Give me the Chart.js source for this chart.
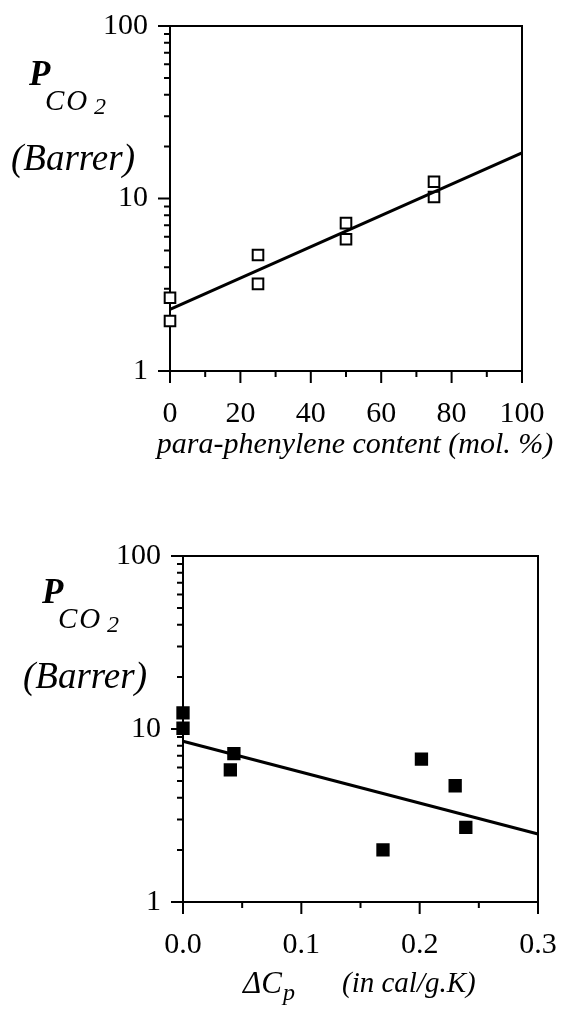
<!DOCTYPE html>
<html>
<head>
<meta charset="utf-8">
<script src="https://cdn.jsdelivr.net/npm/chart.js@4/dist/chart.umd.min.js"></script>
<style>
  html, body { margin: 0; padding: 0; background: #fff; }
  body { width: 566px; height: 1010px; position: relative; overflow: hidden; font-family: "Liberation Serif", "DejaVu Serif", serif; color: #000; }
  .box { position: absolute; left: 0; width: 566px; }
  .lbl { position: absolute; line-height: 1; white-space: nowrap; font-style: italic; }
  .b { font-weight: bold; }
</style>
</head>
<body>
<div class="box" style="top:0;height:480px"><canvas id="topChart" width="566" height="480"></canvas></div>
<div class="box" style="top:500px;height:510px"><canvas id="botChart" width="566" height="510"></canvas></div>

<!-- top chart labels -->
<span class="lbl b" style="left:29px;top:56px;font-size:35px">P</span>
<span class="lbl" style="left:45px;top:86px;font-size:29px;letter-spacing:2px">CO</span>
<span class="lbl" style="left:94px;top:94px;font-size:24px">2</span>
<span class="lbl" style="left:11px;top:139px;font-size:37px">(Barrer)</span>
<span class="lbl" style="left:355px;top:428px;font-size:30px;transform:translateX(-50%)">para-phenylene content (mol. %)</span>

<!-- bottom chart labels -->
<span class="lbl b" style="left:42px;top:574px;font-size:35px">P</span>
<span class="lbl" style="left:58px;top:604px;font-size:29px;letter-spacing:2px">CO</span>
<span class="lbl" style="left:107px;top:612px;font-size:24px">2</span>
<span class="lbl" style="left:23px;top:657px;font-size:37px">(Barrer)</span>
<span class="lbl" style="left:243px;top:967px;font-size:31px">ΔC</span>
<span class="lbl" style="left:283px;top:980px;font-size:24px">p</span>
<span class="lbl" style="left:342px;top:968px;font-size:29px">(in cal/g.K)</span>

<script>
// top panel: CO2 permeability vs para-phenylene content
const paraContent = [0, 0, 25, 25, 50, 50, 75, 75];
const paraPerm = [2.66, 1.95, 4.7, 3.2, 7.2, 5.8, 12.5, 10.2];
const paraFitX = [0, 100];
const paraFitY = [2.28, 18.4];
const paraMajor = [0, 20, 40, 60, 80, 100];
const paraMinor = [10, 30, 50, 70, 90];

// bottom panel: CO2 permeability vs delta Cp
const dCp = [0.0, 0.0, 0.043, 0.040, 0.169, 0.2015, 0.230, 0.239];
const dCpPerm = [12.4, 10.1, 7.2, 5.8, 2.0, 6.7, 4.7, 2.7];
const dCpFitX = [0, 0.3];
const dCpFitY = [8.5, 2.47];
const dCpMajor = [0, 0.1, 0.2, 0.3];
const dCpMinor = [0.05, 0.15, 0.25];

// shared log axis ticks
const logMajor = [1, 10, 100];
const logMinor = [2, 3, 4, 5, 6, 7, 8, 9, 20, 30, 40, 50, 60, 70, 80, 90];

const tickFont = { family: '"Liberation Serif", serif', size: 30 };

// box + outward ticks (long majors, short minors)
const frameTicks = {
  id: 'frameTicks',
  beforeDatasetsDraw(chart, args, o) {
    const { ctx, chartArea: a, scales: { x, y } } = chart;
    ctx.save();
    ctx.strokeStyle = '#000';
    ctx.lineWidth = 2;
    ctx.strokeRect(a.left, a.top, a.right - a.left, a.bottom - a.top);
    ctx.beginPath();
    o.xMajor.forEach(v => { const p = x.getPixelForValue(v); ctx.moveTo(p, a.bottom); ctx.lineTo(p, a.bottom + 12); });
    o.xMinor.forEach(v => { const p = x.getPixelForValue(v); ctx.moveTo(p, a.bottom); ctx.lineTo(p, a.bottom + 6); });
    logMajor.forEach(v => { const p = y.getPixelForValue(v); ctx.moveTo(a.left, p); ctx.lineTo(a.left - 12, p); });
    logMinor.forEach(v => { const p = y.getPixelForValue(v); ctx.moveTo(a.left, p); ctx.lineTo(a.left - 6, p); });
    ctx.stroke();
    ctx.restore();
  }
};

function makeChart(id, xs, ys, fx, fy, xMin, xMax, xMajor, xMinor, fmt, filled, pad, yWidth, xHeight, r) {
  const pts = xs.map((v, i) => ({ x: v, y: ys[i] }));
  const fit = fx.map((v, i) => ({ x: v, y: fy[i] }));
  return new Chart(document.getElementById(id), {
    type: 'scatter',
    data: {
      datasets: [
        { type: 'line', data: fit, borderColor: '#000', borderWidth: 3, pointRadius: 0, fill: false, clip: false },
        { data: pts, pointStyle: 'rect', pointRadius: r, borderWidth: 2, borderColor: '#000',
          backgroundColor: filled ? '#000' : '#fff', clip: false }
      ]
    },
    options: {
      responsive: false,
      animation: false,
      events: [],
      layout: { padding: pad },
      plugins: { legend: { display: false }, tooltip: { enabled: false }, frameTicks: { xMajor, xMinor } },
      scales: {
        x: {
          type: 'linear', min: xMin, max: xMax,
          grid: { display: false, drawTicks: false }, border: { display: false },
          afterBuildTicks: s => { s.ticks = xMajor.map(v => ({ value: v })); },
          afterFit: s => { s.height = xHeight; s.paddingLeft = 0; s.paddingRight = 0; },
          ticks: { color: '#000', font: tickFont, padding: 25, maxRotation: 0, autoSkip: false, callback: fmt }
        },
        y: {
          type: 'logarithmic', min: 1, max: 100,
          grid: { display: false, drawTicks: false }, border: { display: false },
          afterBuildTicks: s => { s.ticks = logMajor.map(v => ({ value: v })); },
          afterFit: s => { s.width = yWidth; s.paddingTop = 0; s.paddingBottom = 0; },
          ticks: { color: '#000', font: tickFont, padding: 22, autoSkip: false, callback: v => String(v) }
        }
      }
    },
    plugins: [frameTicks]
  });
}

makeChart('topChart', paraContent, paraPerm, paraFitX, paraFitY, 0, 100, paraMajor, paraMinor,
  v => String(v), false, { top: 26, right: 44, left: 0, bottom: 0 }, 170, 109, 7.5);
makeChart('botChart', dCp, dCpPerm, dCpFitX, dCpFitY, 0, 0.3, dCpMajor, dCpMinor,
  v => Number(v).toFixed(1), true, { top: 56, right: 28, left: 0, bottom: 0 }, 183, 108, 8);
</script>
</body>
</html>
